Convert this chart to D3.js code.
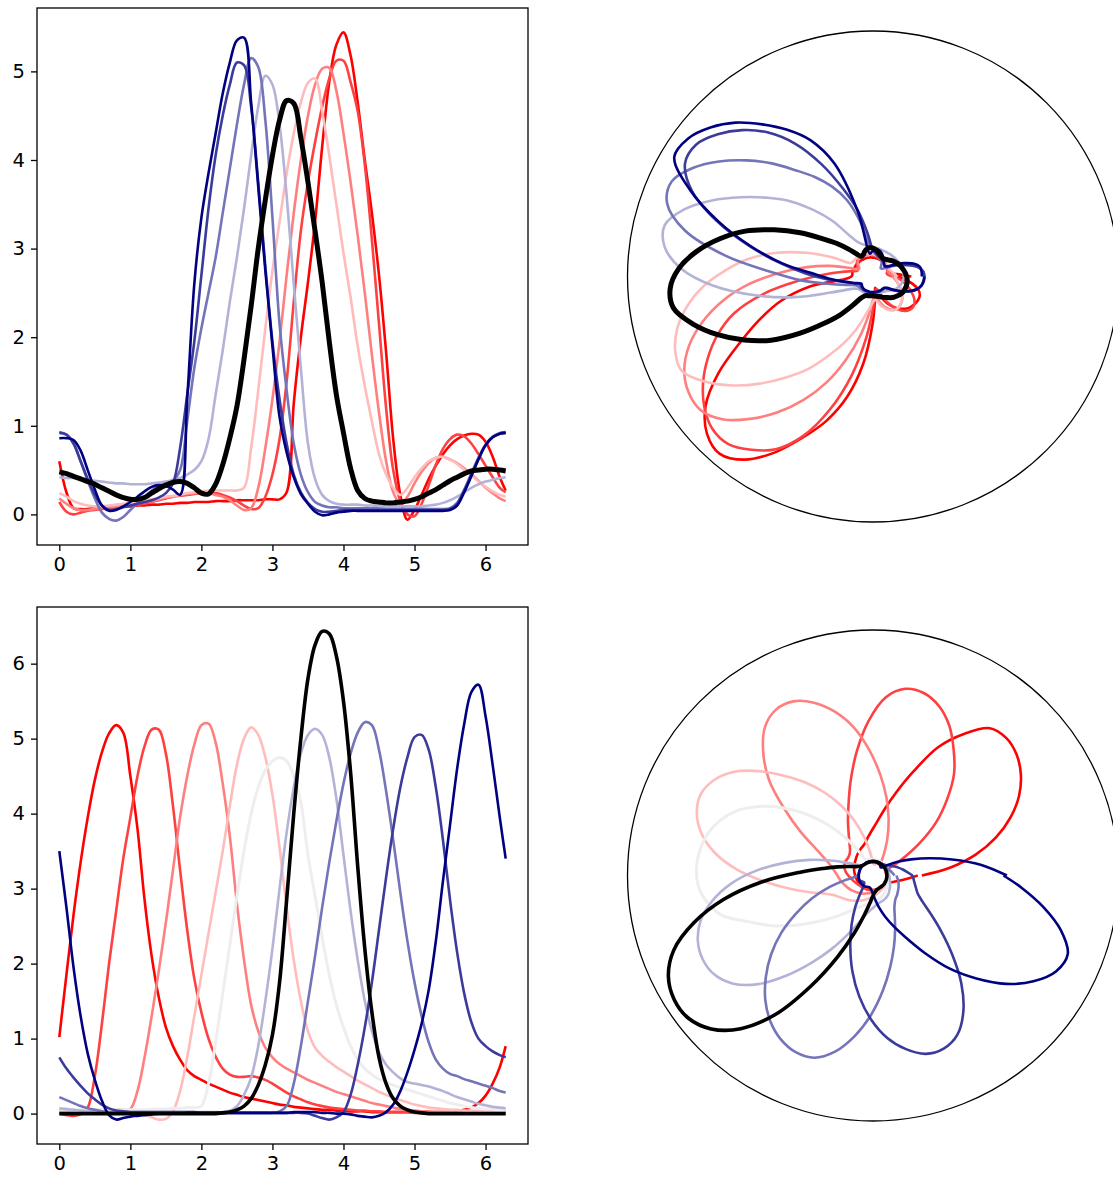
<!DOCTYPE html>
<html>
<head>
<meta charset="utf-8">
<script src="https://cdn.jsdelivr.net/npm/d3@7"></script>
<style>
  body { margin: 0; background: #fff; }
  svg { display: block; }
  text { font-family: "DejaVu Sans", sans-serif; }
</style>
</head>
<body>
<svg id="fig" width="1113" height="1178"></svg>
<script>
// Shared angle grid (radians), 0 .. 2π
const thetaGrid = [
  0.0, 0.1, 0.2, 0.3, 0.4, 0.5, 0.6, 0.7, 0.8, 0.9,
  1.0, 1.1, 1.2, 1.3, 1.4, 1.5, 1.6, 1.7, 1.8, 1.9,
  2.0, 2.1, 2.2, 2.3, 2.4, 2.5, 2.6, 2.7, 2.8, 2.9,
  3.0, 3.1, 3.2, 3.3, 3.4, 3.5, 3.6, 3.7, 3.8, 3.9,
  4.0, 4.1, 4.2, 4.3, 4.4, 4.5, 4.6, 4.7, 4.8, 4.9,
  5.0, 5.1, 5.2, 5.3, 5.4, 5.5, 5.6, 5.7, 5.8, 5.9,
  6.0, 6.1, 6.2, 6.2832
];
const xTicks = [0, 1, 2, 3, 4, 5, 6];
const topYTicks = [0, 1, 2, 3, 4, 5];
const bottomYTicks = [0, 1, 2, 3, 4, 5, 6];

// ---- upper row: eight responses plus their mean (black) ----
const topRed = [
  0.60, 0.25, 0.07, 0.06, 0.06, 0.07, 0.07, 0.08, 0.08, 0.09,
  0.09, 0.10, 0.10, 0.11, 0.11, 0.12, 0.12, 0.13, 0.13, 0.14,
  0.14, 0.14, 0.15, 0.15, 0.15, 0.16, 0.16, 0.16, 0.16, 0.17,
  0.17, 0.17, 0.25, 1.25, 2.00, 2.62, 3.30, 4.15, 4.88, 5.30,
  5.44, 5.18, 4.65, 4.00, 3.40, 2.70, 1.83, 0.85, 0.22, -0.06,
  0.05, 0.22, 0.40, 0.55, 0.68, 0.78, 0.85, 0.89, 0.91, 0.90,
  0.82, 0.65, 0.42, 0.27
];
const topRed2 = [
  0.14, 0.03, 0.00, 0.02, 0.04, 0.05, 0.06, 0.07, 0.08, 0.09,
  0.10, 0.11, 0.12, 0.14, 0.16, 0.18, 0.20, 0.21, 0.22, 0.23,
  0.24, 0.25, 0.24, 0.22, 0.19, 0.15, 0.10, 0.06, 0.07, 0.20,
  0.45, 0.85, 1.50, 2.40, 3.20, 3.75, 4.20, 4.60, 4.92, 5.12,
  5.12, 4.88, 4.55, 3.95, 3.10, 2.15, 1.20, 0.50, 0.15, 0.00,
  -0.02, 0.12, 0.33, 0.56, 0.74, 0.85, 0.90, 0.88, 0.80, 0.68,
  0.55, 0.42, 0.30, 0.25
];
const topRed3 = [
  0.18, 0.12, 0.07, 0.05, 0.05, 0.06, 0.07, 0.08, 0.09, 0.10,
  0.11, 0.12, 0.14, 0.15, 0.17, 0.19, 0.20, 0.22, 0.23, 0.24,
  0.24, 0.24, 0.22, 0.20, 0.16, 0.10, 0.05, 0.07, 0.30, 0.75,
  1.30, 1.95, 2.70, 3.40, 4.00, 4.50, 4.85, 5.03, 5.04, 4.78,
  4.30, 3.75, 3.15, 2.50, 1.80, 1.15, 0.60, 0.25, 0.12, 0.20,
  0.35, 0.48, 0.58, 0.64, 0.65, 0.62, 0.58, 0.52, 0.45, 0.38,
  0.30, 0.24, 0.18, 0.15
];
const topPink = [
  0.24, 0.20, 0.15, 0.12, 0.10, 0.09, 0.09, 0.10, 0.11, 0.12,
  0.13, 0.14, 0.15, 0.17, 0.18, 0.20, 0.21, 0.22, 0.24, 0.25,
  0.26, 0.27, 0.27, 0.27, 0.27, 0.27, 0.30, 0.75, 1.40, 2.10,
  2.75, 3.30, 3.85, 4.30, 4.65, 4.87, 4.92, 4.55, 4.05, 3.50,
  2.95, 2.45, 1.90, 1.45, 1.05, 0.68, 0.45, 0.30, 0.22, 0.30,
  0.42, 0.52, 0.60, 0.64, 0.65, 0.62, 0.57, 0.50, 0.44, 0.37,
  0.31, 0.26, 0.22, 0.20
];
const topLightBlue = [
  0.42, 0.41, 0.41, 0.40, 0.39, 0.38, 0.37, 0.36, 0.35, 0.35,
  0.34, 0.34, 0.34, 0.35, 0.36, 0.37, 0.39, 0.41, 0.45, 0.50,
  0.60, 0.85, 1.35, 1.85, 2.40, 2.90, 3.45, 4.05, 4.60, 4.95,
  4.85, 4.40, 3.60, 2.60, 1.65, 0.80, 0.40, 0.22, 0.15, 0.12,
  0.11, 0.11, 0.11, 0.10, 0.10, 0.10, 0.09, 0.09, 0.09, 0.09,
  0.09, 0.09, 0.10, 0.11, 0.13, 0.16, 0.20, 0.25, 0.30, 0.34,
  0.37, 0.39, 0.41, 0.42
];
const topMidBlue = [
  0.93, 0.90, 0.80, 0.60, 0.38, 0.18, 0.02, -0.05, -0.07, -0.03,
  0.05, 0.13, 0.20, 0.27, 0.32, 0.35, 0.38, 0.50, 1.05, 1.65,
  2.10, 2.50, 2.90, 3.40, 3.90, 4.40, 4.85, 5.15, 5.05, 4.45,
  3.35, 2.15, 1.40, 0.80, 0.45, 0.25, 0.14, 0.10, 0.08, 0.08,
  0.07, 0.07, 0.07, 0.07, 0.07, 0.07, 0.06, 0.06, 0.06, 0.06,
  0.06, 0.06, 0.06, 0.06, 0.06, 0.07, 0.13, 0.28, 0.46, 0.64,
  0.79, 0.88, 0.92, 0.93
];
const topDarkBlue = [
  0.92, 0.90, 0.80, 0.60, 0.40, 0.22, 0.10, 0.05, 0.06, 0.08,
  0.10, 0.12, 0.14, 0.16, 0.19, 0.24, 0.35, 0.75, 1.35, 1.95,
  2.70, 3.45, 4.05, 4.50, 4.85, 5.10, 5.07, 4.60, 3.75, 2.80,
  1.95, 1.30, 0.80, 0.45, 0.25, 0.13, 0.06, 0.03, 0.03, 0.04,
  0.05, 0.05, 0.05, 0.05, 0.05, 0.05, 0.05, 0.05, 0.05, 0.05,
  0.05, 0.05, 0.05, 0.05, 0.05, 0.06, 0.12, 0.27, 0.45, 0.63,
  0.78, 0.87, 0.91, 0.92
];
const topNavy = [
  0.86, 0.86, 0.84, 0.72, 0.50, 0.28, 0.10, 0.04, 0.05, 0.09,
  0.14, 0.20, 0.26, 0.31, 0.33, 0.32, 0.28, 0.22, 1.30, 2.60,
  3.35, 3.85, 4.30, 4.75, 5.10, 5.35, 5.38, 4.65, 3.70, 2.75,
  1.90, 1.10, 0.70, 0.42, 0.23, 0.12, 0.03, -0.01, 0.00, 0.02,
  0.03, 0.04, 0.04, 0.04, 0.04, 0.04, 0.04, 0.04, 0.04, 0.04,
  0.04, 0.04, 0.04, 0.04, 0.04, 0.05, 0.10, 0.25, 0.43, 0.62,
  0.78, 0.87, 0.91, 0.92
];
const topMean = [
  0.48, 0.46, 0.43, 0.40, 0.37, 0.34, 0.30, 0.26, 0.22, 0.19,
  0.17, 0.17, 0.19, 0.24, 0.29, 0.33, 0.36, 0.37, 0.35, 0.30,
  0.24, 0.23, 0.34, 0.56, 0.86, 1.22, 1.75, 2.35, 3.00, 3.55,
  4.05, 4.45, 4.67, 4.64, 4.25, 3.75, 3.20, 2.62, 1.95, 1.35,
  0.92, 0.52, 0.27, 0.18, 0.15, 0.14, 0.13, 0.13, 0.14, 0.15,
  0.17, 0.20, 0.24, 0.28, 0.33, 0.38, 0.42, 0.46, 0.49, 0.50,
  0.51, 0.51, 0.50, 0.49
];
const topColors = ['#ff0000', '#ff4040', '#ff7f7f', '#ffbcbc',
                   '#b3b3d8', '#7474b9', '#3b3b9c', '#000080', '#000000'];

// ---- lower row: nine rotated responses plus their mean (black) ----
const botRed = [
  1.02, 1.85, 2.65, 3.35, 3.95, 4.45, 4.82, 5.07, 5.18, 5.08,
  4.50, 3.80, 2.85, 2.10, 1.55, 1.15, 0.90, 0.72, 0.58, 0.50,
  0.45, 0.40, 0.36, 0.32, 0.28, 0.25, 0.22, 0.20, 0.18, 0.16,
  0.14, 0.12, 0.11, 0.09, 0.08, 0.07, 0.06, 0.05, 0.05, 0.04,
  0.04, 0.03, 0.03, 0.03, 0.02, 0.02, 0.02, 0.02, 0.02, 0.02,
  0.02, 0.02, 0.02, 0.02, 0.02, 0.02, 0.03, 0.05, 0.08, 0.14,
  0.24, 0.40, 0.62, 0.90
];
const botRed2 = [
  0.00, -0.02, -0.03, -0.01, 0.08, 0.50, 1.20, 2.00, 2.70, 3.40,
  3.95, 4.50, 4.90, 5.12, 5.12, 4.80, 4.10, 3.25, 2.45, 1.80,
  1.35, 1.00, 0.76, 0.60, 0.52, 0.49, 0.49, 0.50, 0.48, 0.45,
  0.40, 0.34, 0.28, 0.23, 0.19, 0.15, 0.12, 0.10, 0.08, 0.07,
  0.06, 0.05, 0.04, 0.04, 0.03, 0.03, 0.02, 0.02, 0.02, 0.02,
  0.01, 0.01, 0.01, 0.01, 0.01, 0.01, 0.01, 0.01, 0.01, 0.01,
  0.01, 0.01, 0.01, 0.01
];
const botRed3 = [
  0.02, 0.02, 0.02, 0.03, 0.03, 0.04, 0.04, 0.05, 0.05, 0.05,
  0.06, 0.30, 0.75, 1.30, 1.90, 2.55, 3.25, 3.95, 4.50, 4.92,
  5.18, 5.20, 4.95, 4.40, 3.70, 2.80, 2.05, 1.45, 1.10, 0.88,
  0.75, 0.66, 0.60, 0.55, 0.50, 0.45, 0.41, 0.37, 0.33, 0.29,
  0.26, 0.23, 0.20, 0.17, 0.14, 0.12, 0.10, 0.08, 0.06, 0.05,
  0.04, 0.03, 0.03, 0.02, 0.02, 0.02, 0.02, 0.02, 0.02, 0.02,
  0.02, 0.02, 0.02, 0.02
];
const botPink = [
  0.03, 0.04, 0.04, 0.04, 0.05, 0.05, 0.05, 0.05, 0.05, 0.04,
  0.03, 0.01, -0.02, -0.05, -0.08, -0.07, 0.03, 0.30, 0.75, 1.30,
  1.85, 2.40, 2.95, 3.50, 4.10, 4.65, 5.00, 5.15, 5.05, 4.75,
  4.25, 3.55, 2.75, 2.05, 1.50, 1.10, 0.88, 0.77, 0.69, 0.62,
  0.56, 0.50, 0.44, 0.39, 0.34, 0.29, 0.25, 0.21, 0.18, 0.15,
  0.12, 0.10, 0.08, 0.07, 0.06, 0.05, 0.05, 0.04, 0.04, 0.04,
  0.03, 0.03, 0.03, 0.03
];
const botGray = [
  0.06, 0.06, 0.05, 0.05, 0.05, 0.05, 0.05, 0.05, 0.05, 0.05,
  0.05, 0.05, 0.05, 0.06, 0.06, 0.06, 0.07, 0.07, 0.08, 0.08,
  0.10, 0.40, 0.95, 1.60, 2.25, 2.90, 3.50, 4.00, 4.35, 4.58,
  4.70, 4.75, 4.70, 4.50, 4.15, 3.45, 2.90, 2.35, 1.85, 1.45,
  1.15, 0.90, 0.72, 0.60, 0.52, 0.46, 0.42, 0.38, 0.35, 0.32,
  0.29, 0.26, 0.23, 0.20, 0.17, 0.14, 0.12, 0.10, 0.08, 0.07,
  0.06, 0.06, 0.05, 0.05
];
const botLightBlue = [
  0.07, 0.06, 0.05, 0.04, 0.03, 0.03, 0.02, 0.02, 0.02, 0.02,
  0.02, 0.02, 0.02, 0.02, 0.02, 0.02, 0.02, 0.02, 0.02, 0.02,
  0.02, 0.02, 0.02, 0.02, 0.04, 0.10, 0.25, 0.48, 0.90, 1.50,
  2.20, 3.00, 3.75, 4.35, 4.80, 5.05, 5.13, 5.05, 4.75, 4.20,
  3.45, 2.70, 2.05, 1.50, 1.10, 0.82, 0.65, 0.55, 0.47, 0.42,
  0.40, 0.38, 0.36, 0.33, 0.30, 0.26, 0.22, 0.19, 0.16, 0.13,
  0.11, 0.09, 0.08, 0.07
];
const botMidBlue = [
  0.22, 0.18, 0.14, 0.10, 0.07, 0.05, 0.03, 0.02, 0.02, 0.01,
  0.01, 0.01, 0.01, 0.01, 0.01, 0.01, 0.01, 0.01, 0.01, 0.01,
  0.01, 0.01, 0.01, 0.01, 0.01, 0.01, 0.01, 0.01, 0.01, 0.01,
  0.01, 0.03, 0.10, 0.40, 0.90, 1.50, 2.10, 2.75, 3.35, 3.90,
  4.40, 4.80, 5.08, 5.22, 5.18, 4.85, 4.30, 3.65, 2.95, 2.30,
  1.75, 1.30, 0.95, 0.72, 0.60, 0.53, 0.50, 0.46, 0.43, 0.40,
  0.37, 0.34, 0.30, 0.28
];
const botDarkBlue = [
  0.75, 0.60, 0.48, 0.37, 0.27, 0.19, 0.12, 0.07, 0.04, 0.03,
  0.02, 0.02, 0.02, 0.02, 0.02, 0.02, 0.02, 0.02, 0.02, 0.02,
  0.01, 0.01, 0.01, 0.01, 0.01, 0.01, 0.01, 0.01, 0.01, 0.01,
  0.01, 0.01, 0.01, 0.01, 0.01, 0.00, -0.03, -0.06, -0.08, -0.05,
  0.02, 0.25, 0.65, 1.15, 1.75, 2.45, 3.15, 3.80, 4.35, 4.75,
  5.02, 5.05, 4.85, 4.35, 3.65, 2.85, 2.15, 1.60, 1.22, 1.00,
  0.90, 0.83, 0.78, 0.75
];
const botNavy = [
  3.50, 2.75, 1.95, 1.30, 0.80, 0.45, 0.17, -0.02, -0.08, -0.06,
  -0.04, -0.03, -0.02, -0.01, 0.00, 0.00, 0.00, 0.00, 0.01, 0.01,
  0.01, 0.01, 0.01, 0.01, 0.01, 0.01, 0.01, 0.01, 0.01, 0.01,
  0.01, 0.01, 0.01, 0.02, 0.02, 0.02, 0.02, 0.01, 0.01, 0.00,
  0.00, -0.01, -0.03, -0.04, -0.05, -0.03, 0.02, 0.12, 0.30, 0.55,
  0.85, 1.20, 1.65, 2.30, 3.10, 3.85, 4.60, 5.20, 5.62, 5.72,
  5.30, 4.65, 3.95, 3.40
];
const botMean = [
  0.00, 0.00, 0.00, 0.00, 0.00, 0.00, 0.00, 0.00, 0.00, 0.00,
  0.00, 0.00, 0.00, 0.00, 0.00, 0.00, 0.00, 0.00, 0.00, 0.00,
  0.00, 0.00, 0.00, 0.01, 0.02, 0.05, 0.10, 0.20, 0.38, 0.65,
  1.05, 1.75, 2.85, 4.00, 5.00, 5.80, 6.25, 6.43, 6.40, 6.10,
  5.50, 4.55, 3.30, 2.20, 1.35, 0.75, 0.40, 0.20, 0.10, 0.05,
  0.02, 0.01, 0.00, 0.00, 0.00, 0.00, 0.00, 0.00, 0.00, 0.00,
  0.00, 0.00, 0.00, 0.00
];
const botColors = ['#ff0000', '#ff4040', '#ff7f7f', '#ffbcbc', '#eeeeee',
                   '#b3b3d8', '#7474b9', '#3b3b9c', '#000080', '#000000'];

const topSeries = [topRed, topRed2, topRed3, topPink, topLightBlue, topMidBlue, topDarkBlue, topNavy, topMean];
const botSeries = [botRed, botRed2, botRed3, botPink, botGray, botLightBlue, botMidBlue, botDarkBlue, botNavy, botMean];
const topWidths = [2.6, 2.6, 2.6, 2.6, 2.6, 2.6, 2.6, 2.6, 5.0];
const botWidths = [2.6, 2.6, 2.6, 2.6, 3.0, 2.6, 2.6, 2.6, 2.6, 3.6];

const fig = d3.select('#fig');
const FONT = 19.5;

// y range padded by 5% of the data span on both sides
function paddedDomain(series) {
  const all = series.flat();
  const lo = d3.min(all), hi = d3.max(all);
  const pad = (hi - lo) * 0.05;
  return [lo - pad, hi + pad];
}

function drawCartesian(box, series, colors, widths, yTicks) {
  const g = fig.append('g');
  const tMax = thetaGrid[thetaGrid.length - 1];
  const xPad = tMax * 0.05;
  const x = d3.scaleLinear().domain([-xPad, tMax + xPad]).range([box.left, box.right]);
  const y = d3.scaleLinear().domain(paddedDomain(series)).range([box.bottom, box.top]);

  const line = d3.line()
    .x((d, i) => x(thetaGrid[i]))
    .y(d => y(d))
    .curve(d3.curveCatmullRom);

  series.forEach((s, k) => {
    g.append('path')
      .attr('d', line(s))
      .attr('fill', 'none')
      .attr('stroke', colors[k])
      .attr('stroke-width', widths[k])
      .attr('stroke-linejoin', 'round');
  });

  const xAxis = g.append('g')
    .attr('transform', `translate(0,${box.bottom})`)
    .call(d3.axisBottom(x).tickValues(xTicks).tickSize(6).tickPadding(6).tickFormat(d3.format('d')));
  const yAxis = g.append('g')
    .attr('transform', `translate(${box.left},0)`)
    .call(d3.axisLeft(y).tickValues(yTicks).tickSize(6).tickPadding(6).tickFormat(d3.format('d')));
  [xAxis, yAxis].forEach(a => {
    a.select('.domain').remove();
    a.selectAll('line').attr('stroke', '#000').attr('stroke-width', 1.3);
    a.selectAll('text').attr('fill', '#000').style('font-size', FONT + 'px')
      .style('font-family', '"DejaVu Sans", sans-serif');
  });

  g.append('rect')
    .attr('x', box.left).attr('y', box.top)
    .attr('width', box.right - box.left).attr('height', box.bottom - box.top)
    .attr('fill', 'none').attr('stroke', '#000').attr('stroke-width', 1.3);

  return y.domain();
}

// Polar view: angle counter-clockwise from 3 o'clock, radius spans the same value range
function drawPolar(cx, cy, R, domain, series, colors, widths) {
  const g = fig.append('g').attr('transform', `translate(${cx},${cy})`);
  const r = d3.scaleLinear().domain(domain).range([0, R]);
  const radial = d3.lineRadial()
    .angle((d, i) => Math.PI / 2 - thetaGrid[i])
    .radius(d => r(d))
    .curve(d3.curveCatmullRom);

  series.forEach((s, k) => {
    g.append('path')
      .attr('d', radial(s))
      .attr('fill', 'none')
      .attr('stroke', colors[k])
      .attr('stroke-width', widths[k])
      .attr('stroke-linejoin', 'round');
  });

  g.append('circle')
    .attr('r', R)
    .attr('fill', 'none')
    .attr('stroke', '#000')
    .attr('stroke-width', 1.3);
}

const topDomain = drawCartesian({left: 37, right: 528, top: 8, bottom: 545},
  topSeries, topColors, topWidths, topYTicks);
drawPolar(873, 276.5, 245.5, topDomain, topSeries, topColors, topWidths);

const botDomain = drawCartesian({left: 37, right: 528, top: 607, bottom: 1144},
  botSeries, botColors, botWidths, bottomYTicks);
drawPolar(873, 875.5, 245.5, botDomain, botSeries, botColors, botWidths);
</script>
</body>
</html>
